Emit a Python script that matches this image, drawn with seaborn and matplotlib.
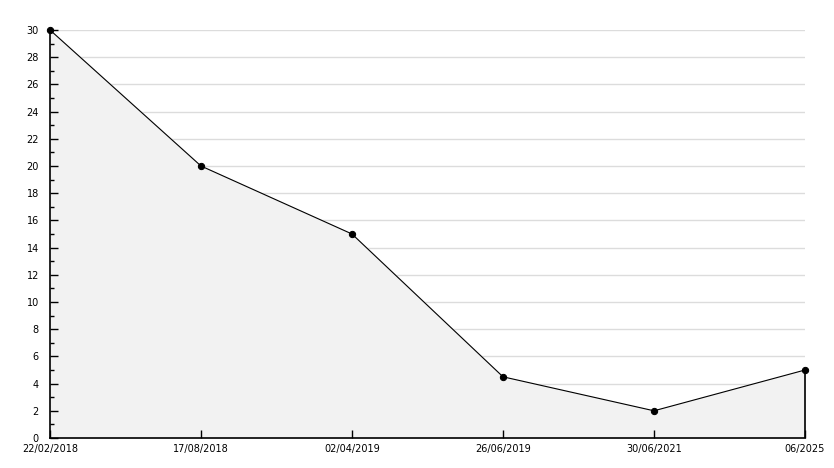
import pandas as pd
import seaborn as sns
import matplotlib.pyplot as plt
from matplotlib.ticker import MultipleLocator

# Datos del gráfico
fechas = ["22/02/2018", "17/08/2018", "02/04/2019", "26/06/2019", "30/06/2021", "06/2025"]
valores = [30, 20, 15, 4.5, 2, 5]

df = pd.DataFrame({"fecha": fechas, "valor": valores})
pos = list(range(len(fechas)))

sns.set_style("white")
fig = plt.figure(figsize=(8.34, 4.68), dpi=100)
ax = fig.add_axes([50 / 834, 1 - 438 / 468, 755 / 834, 408 / 468])

# Relleno bajo la línea
ax.fill_between(pos, valores, 0, color="#f2f2f2", zorder=1)
ax.vlines(pos[-1], 0, valores[-1], color="black", lw=1.2, zorder=3, clip_on=False)

sns.lineplot(data=df, x="fecha", y="valor", sort=False, color="black", lw=0.8,
             marker="o", markersize=4.5, markeredgecolor="black", ax=ax, zorder=4,
             clip_on=False)

ax.set_xlim(0, len(fechas) - 1)
ax.set_ylim(0, 30)
ax.yaxis.set_major_locator(MultipleLocator(2))
ax.yaxis.set_minor_locator(MultipleLocator(1))
ax.grid(False)
ax.set_axisbelow(False)

# Líneas de cuadrícula por debajo del relleno
for y in ax.get_yticks():
    if 0 < y <= 30:
        ax.axhline(y, color="#dcdcdc", lw=1, zorder=0)

for s in ["top", "right"]:
    ax.spines[s].set_visible(False)
for s in ["left", "bottom"]:
    ax.spines[s].set_color("black")
    ax.spines[s].set_linewidth(1.2)
    ax.spines[s].set_zorder(5)

ax.tick_params(axis="y", which="major", left=True, direction="in", length=6, width=1,
               color="black", labelcolor="black", labelsize=7, pad=8)
ax.tick_params(axis="y", which="minor", left=True, direction="in", length=3, width=1,
               color="black")
ax.tick_params(axis="x", bottom=True, direction="in", length=6, width=1, color="black",
               labelcolor="black", labelsize=7, pad=4)
ax.set_xlabel("")
ax.set_ylabel("")

plt.savefig("out.png", dpi=100)
